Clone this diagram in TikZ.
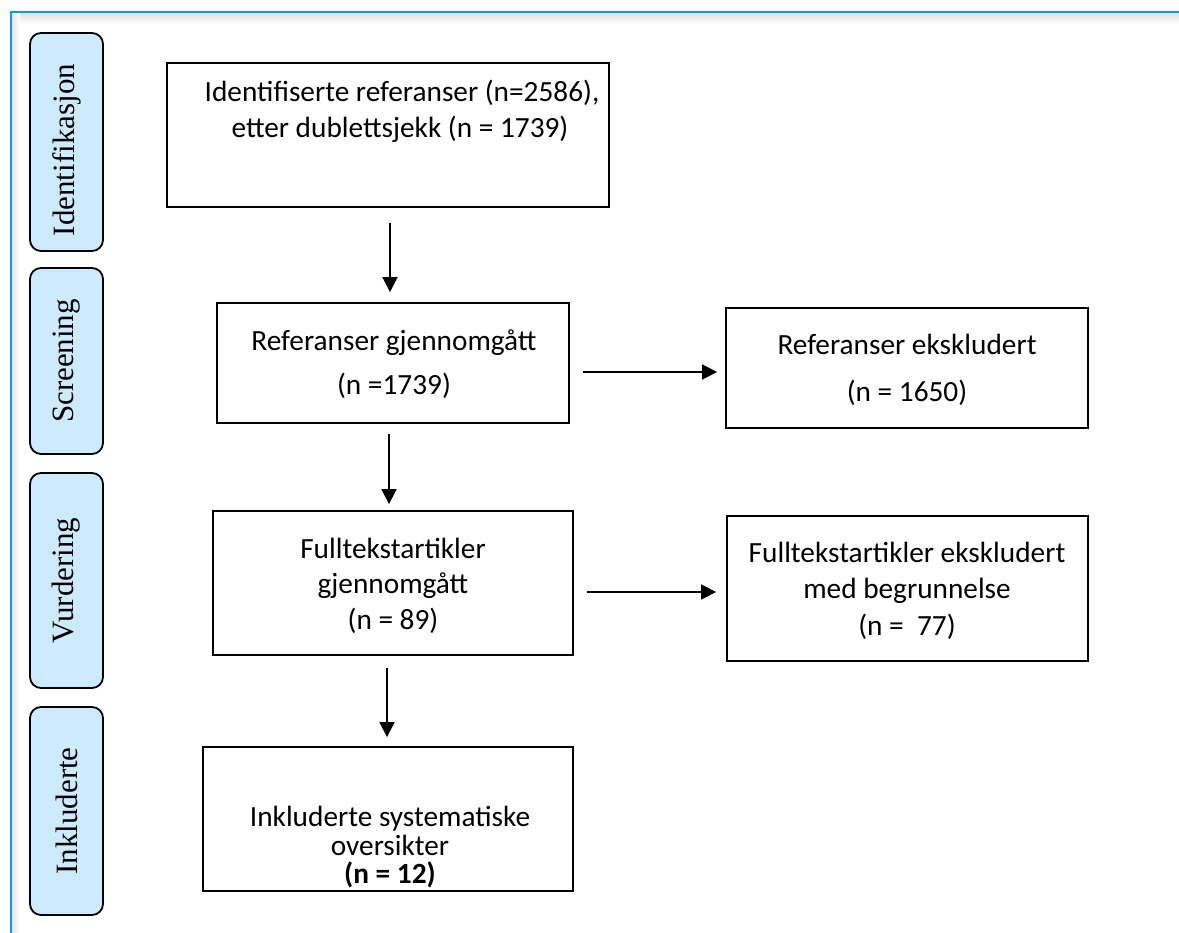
\documentclass[tikz,border=0pt]{standalone}
\usepackage{fontspec}
\setmainfont{Carlito}
\newfontfamily\labelfont{Liberation Serif}
\usetikzlibrary{arrows.meta,calc}
\definecolor{framebl}{RGB}{10,160,220}
\definecolor{lblfill}{RGB}{204,235,255}
\begin{document}
\begin{tikzpicture}[x=1pt,y=1pt,
  box/.style={draw=black, line width=1.8pt, inner sep=0pt, fill=white},
  lbl/.style={draw=black, line width=1.8pt, rounded corners=11pt, fill=lblfill,
    inner sep=0pt, rotate=90, font=\labelfont\fontsize{31}{36}\selectfont},
  ln/.style={anchor=base, inner sep=0pt, font=\fontsize{29.3}{35}\selectfont},
  arr/.style={line width=1.6pt, -{Triangle[length=15pt,width=15pt]}}]
\useasboundingbox (0,0) rectangle (1179,-933);
\fill[white] (0,0) rectangle (1179,-933);
% frame with faint shadow
\shade[top color=black!12, bottom color=white] (11,-13) rectangle (1179,-24);
\shade[left color=black!10, right color=white] (12,-13) rectangle (20,-933);
\draw[framebl, line width=2.6pt] (11,-933) -- (11,-12) -- (1179,-12);

% stage labels
\node[lbl, minimum width=218pt, minimum height=73pt] (L1) at (66.5,-142) {Identifikasjon\rule{16pt}{0pt}};
\node[lbl, minimum width=186pt, minimum height=73pt] (L2) at (66.5,-361) {Screening};
\node[lbl, minimum width=215pt, minimum height=73pt] (L3) at (66.5,-580.5) {Vurdering};
\node[lbl, minimum width=208pt, minimum height=73pt] (L4) at (66.5,-811) {Inkluderte};

% boxes
\node[box, minimum width=442pt, minimum height=144pt] (b1) at (388,-135) {};
\node[ln] (b1a) at (402,-102) {Identifiserte referanser (n=2586),};
\node[ln] (b1b) at (400,-138) {etter dublettsjekk (n = 1739)};

\node[box, minimum width=352pt, minimum height=120pt] (b2) at (393,-363) {};
\node[ln] (b2a) at (394,-351) {Referanser gjennomgått};
\node[ln] (b2b) at (394,-395) {(n =1739)};

\node[box, minimum width=362pt, minimum height=120pt] (b3) at (907,-368) {};
\node[ln] (b3a) at (907,-355) {Referanser ekskludert};
\node[ln] (b3b) at (907,-402) {(n = 1650)};

\node[box, minimum width=360pt, minimum height=144pt] (b4) at (393,-583) {};
\node[ln] (b4a) at (393,-558) {Fulltekstartikler};
\node[ln] (b4b) at (393,-593) {gjennomgått};
\node[ln] (b4c) at (393,-629) {(n = 89)};

\node[box, minimum width=361pt, minimum height=145pt] (b5) at (907.5,-588.5) {};
\node[ln] (b5a) at (907,-562) {Fulltekstartikler ekskludert};
\node[ln] (b5b) at (907,-598) {med begrunnelse};
\node[ln] (b5c) at (907,-635) {(n =\ \ 77)};

\node[box, minimum width=370pt, minimum height=144pt] (b6) at (388,-819) {};
\node[ln] (b6a) at (390,-826) {Inkluderte systematiske};
\node[ln] (b6b) at (390,-855) {oversikter};
\node[ln] (b6c) at (390,-883) {\textbf{(n = 12)}};

% connectors
\draw[arr, shorten <=15pt, shorten >=10pt] ([xshift=2pt]b1.south) -- ([xshift=2pt]b1.south |- b2.north);
\draw[arr, shorten <=10pt, shorten >=6pt] ([xshift=-4pt]b2.south) -- ([xshift=-4pt]b2.south |- b4.north);
\draw[arr, shorten <=12pt, shorten >=9pt] ([xshift=-1pt]b6.north |- b4.south) -- ([xshift=-1pt]b6.north);
\draw[arr, shorten <=13pt, shorten >=8pt] ([yshift=-9pt]b2.east) -- ([yshift=-9pt]b2.east -| b3.west);
\draw[arr, shorten <=13pt, shorten >=10pt] ([yshift=-9pt]b4.east) -- ([yshift=-9pt]b4.east -| b5.west);
\end{tikzpicture}
\end{document}
